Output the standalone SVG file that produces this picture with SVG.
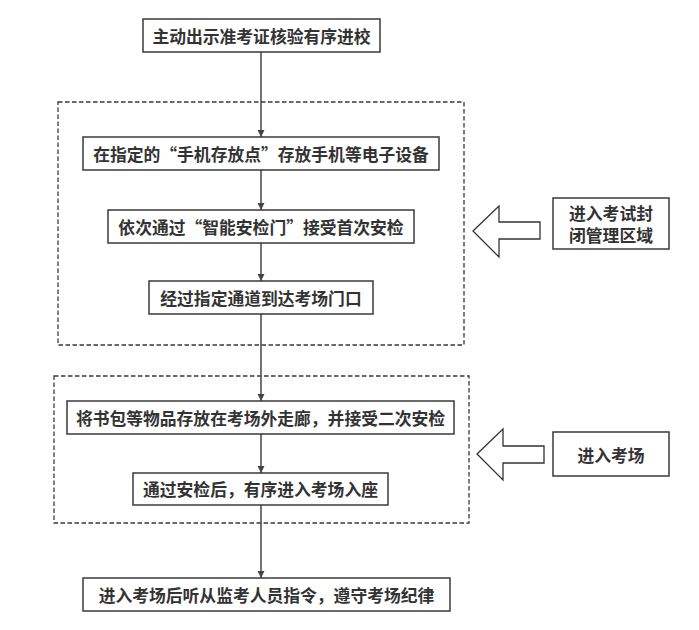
<svg xmlns="http://www.w3.org/2000/svg" width="699" height="630" viewBox="0 0 699 630">
<style>
.box{fill:#fff;stroke:#3a3a3a;stroke-width:1.5}
.grp{fill:none;stroke:#3a3a3a;stroke-width:1.3;stroke-dasharray:4.5,2.5}
.t{font-family:"Noto Sans CJK SC","Noto Sans",sans-serif;font-size:16.8px;font-weight:bold;fill:#333;text-anchor:middle;dominant-baseline:central}
.c{stroke:#444;stroke-width:1.5;fill:none;marker-end:url(#ah)}
.blk{fill:#fff;stroke:#333;stroke-width:1.3}
</style>
<defs>
<marker id="ah" viewBox="0 0 10 10" refX="10" refY="5" markerWidth="7" markerHeight="9" markerUnits="userSpaceOnUse" orient="auto">
<path d="M0,0 L10,5 L0,10 z" fill="#444"/>
</marker>
</defs>
<rect width="699" height="630" fill="#fff"/>
<g id="groups">
<rect id="g1" class="grp" x="58" y="102" width="406" height="243"/>
<rect id="g2" class="grp" x="54" y="376" width="415" height="147"/>
</g>
<g id="connectors">
<line class="c" x1="261" y1="52" x2="261" y2="137"/>
<line class="c" x1="261" y1="170" x2="261" y2="210"/>
<line class="c" x1="261" y1="243" x2="261" y2="281"/>
<line class="c" x1="261" y1="314" x2="261" y2="401"/>
<line class="c" x1="261" y1="434" x2="261" y2="473"/>
<line class="c" x1="261" y1="505" x2="261" y2="578"/>
</g>
<g id="n1"><rect class="box" x="143" y="19" width="237" height="33"/><text class="t" x="261.5" y="35.5">主动出示准考证核验有序进校</text></g>
<g id="n2"><rect class="box" x="83" y="137" width="356" height="33"/><text class="t" x="261" y="153.5">在指定的“手机存放点”存放手机等电子设备</text></g>
<g id="n3"><rect class="box" x="108" y="210" width="306" height="33"/><text class="t" x="261" y="226.5">依次通过“智能安检门”接受首次安检</text></g>
<g id="n4"><rect class="box" x="149" y="281" width="224" height="33"/><text class="t" x="261" y="297.5">经过指定通道到达考场门口</text></g>
<g id="n5"><rect class="box" x="67" y="401" width="387" height="33"/><text class="t" x="260.5" y="417.5">将书包等物品存放在考场外走廊，并接受二次安检</text></g>
<g id="n6"><rect class="box" x="133" y="473" width="255" height="32"/><text class="t" x="260.5" y="489">通过安检后，有序进入考场入座</text></g>
<g id="n7"><rect class="box" x="83" y="578" width="367" height="33"/><text class="t" x="266.5" y="594.5">进入考场后听从监考人员指令，遵守考场纪律</text></g>
<g id="a1"><path class="blk" d="M473,231 L499,206 L499,222 L540,222 L540,239 L499,239 L499,257 Z"/></g>
<g id="n8"><rect class="box" x="553" y="198" width="116" height="51"/><text class="t" x="611" y="213">进入考试封</text><text class="t" x="611" y="235">闭管理区域</text></g>
<g id="a2"><path class="blk" d="M477,454 L503,429 L503,446 L544,446 L544,463 L503,463 L503,480 Z"/></g>
<g id="n9"><rect class="box" x="553" y="432" width="116" height="44"/><text class="t" x="611" y="455">进入考场</text></g>
</svg>
